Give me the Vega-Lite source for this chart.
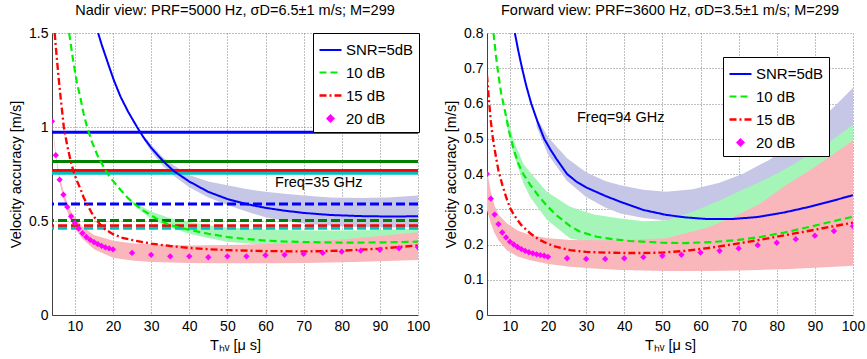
{
  "$schema": "https://vega.github.io/schema/vega-lite/v6.json",
  "background": "white",
  "padding": {"left": 8, "top": 2, "right": 5, "bottom": 5},
  "spacing": 69,
  "bounds": "flush",
  "resolve": {"scale": {"color": "independent", "strokeDash": "independent", "strokeWidth": "independent", "stroke": "independent"}, "legend": {"color": "independent", "strokeDash": "independent"}},
  "datasets": {
    "curvesL": [
      {"x":16.1,"y":1.5,"s":"SNR=5dB"},{"x":17,"y":1.44,"s":"SNR=5dB"},{"x":18,"y":1.38,"s":"SNR=5dB"},{"x":19,"y":1.32,"s":"SNR=5dB"},{"x":20.2,"y":1.25,"s":"SNR=5dB"},{"x":22,"y":1.16,"s":"SNR=5dB"},{"x":24,"y":1.08,"s":"SNR=5dB"},{"x":26.3,"y":1.0,"s":"SNR=5dB"},{"x":28,"y":0.945,"s":"SNR=5dB"},{"x":30,"y":0.89,"s":"SNR=5dB"},{"x":33.3,"y":0.815,"s":"SNR=5dB"},{"x":36,"y":0.765,"s":"SNR=5dB"},{"x":40,"y":0.71,"s":"SNR=5dB"},{"x":45,"y":0.655,"s":"SNR=5dB"},{"x":50,"y":0.617,"s":"SNR=5dB"},{"x":55,"y":0.59,"s":"SNR=5dB"},{"x":60,"y":0.57,"s":"SNR=5dB"},{"x":65,"y":0.555,"s":"SNR=5dB"},{"x":70,"y":0.543,"s":"SNR=5dB"},{"x":77,"y":0.532,"s":"SNR=5dB"},{"x":85,"y":0.526,"s":"SNR=5dB"},{"x":92,"y":0.524,"s":"SNR=5dB"},{"x":100,"y":0.525,"s":"SNR=5dB"},
      {"x":8.5,"y":1.5,"s":"10 dB"},{"x":9.5,"y":1.36,"s":"10 dB"},{"x":10.5,"y":1.24,"s":"10 dB"},{"x":11.5,"y":1.15,"s":"10 dB"},{"x":12.3,"y":1.07,"s":"10 dB"},{"x":13.2,"y":1.0,"s":"10 dB"},{"x":14.5,"y":0.92,"s":"10 dB"},{"x":16,"y":0.845,"s":"10 dB"},{"x":18,"y":0.77,"s":"10 dB"},{"x":19.5,"y":0.725,"s":"10 dB"},{"x":22,"y":0.665,"s":"10 dB"},{"x":24,"y":0.62,"s":"10 dB"},{"x":26,"y":0.585,"s":"10 dB"},{"x":28,"y":0.555,"s":"10 dB"},{"x":30,"y":0.53,"s":"10 dB"},{"x":32,"y":0.505,"s":"10 dB"},{"x":35,"y":0.478,"s":"10 dB"},{"x":40,"y":0.453,"s":"10 dB"},{"x":45,"y":0.432,"s":"10 dB"},{"x":50,"y":0.415,"s":"10 dB"},{"x":55,"y":0.404,"s":"10 dB"},{"x":60,"y":0.396,"s":"10 dB"},{"x":65,"y":0.391,"s":"10 dB"},{"x":70,"y":0.388,"s":"10 dB"},{"x":80,"y":0.385,"s":"10 dB"},{"x":90,"y":0.386,"s":"10 dB"},{"x":100,"y":0.39,"s":"10 dB"},
      {"x":4.7,"y":1.5,"s":"15 dB"},{"x":5.2,"y":1.38,"s":"15 dB"},{"x":5.7,"y":1.27,"s":"15 dB"},{"x":6.3,"y":1.15,"s":"15 dB"},{"x":7.1,"y":1.0,"s":"15 dB"},{"x":8,"y":0.9,"s":"15 dB"},{"x":9,"y":0.81,"s":"15 dB"},{"x":9.7,"y":0.76,"s":"15 dB"},{"x":10.5,"y":0.715,"s":"15 dB"},{"x":11.5,"y":0.67,"s":"15 dB"},{"x":12.3,"y":0.625,"s":"15 dB"},{"x":13.2,"y":0.59,"s":"15 dB"},{"x":14.5,"y":0.54,"s":"15 dB"},{"x":15.8,"y":0.5,"s":"15 dB"},{"x":17,"y":0.475,"s":"15 dB"},{"x":18,"y":0.455,"s":"15 dB"},{"x":20,"y":0.43,"s":"15 dB"},{"x":22.5,"y":0.41,"s":"15 dB"},{"x":25.9,"y":0.395,"s":"15 dB"},{"x":30,"y":0.38,"s":"15 dB"},{"x":35,"y":0.367,"s":"15 dB"},{"x":40,"y":0.357,"s":"15 dB"},{"x":45,"y":0.35,"s":"15 dB"},{"x":50,"y":0.345,"s":"15 dB"},{"x":60,"y":0.34,"s":"15 dB"},{"x":70,"y":0.338,"s":"15 dB"},{"x":80,"y":0.342,"s":"15 dB"},{"x":90,"y":0.353,"s":"15 dB"},{"x":100,"y":0.37,"s":"15 dB"}
    ],
    "ptsL": [
      {"x":4,"y":1.03,"s":"20 dB"},{"x":5,"y":0.85,"s":"20 dB"},{"x":6,"y":0.72,"s":"20 dB"},{"x":7,"y":0.64,"s":"20 dB"},{"x":8,"y":0.575,"s":"20 dB"},{"x":9,"y":0.525,"s":"20 dB"},{"x":10,"y":0.49,"s":"20 dB"},{"x":11,"y":0.46,"s":"20 dB"},{"x":12,"y":0.435,"s":"20 dB"},{"x":13,"y":0.415,"s":"20 dB"},{"x":14,"y":0.4,"s":"20 dB"},{"x":15,"y":0.388,"s":"20 dB"},{"x":16,"y":0.377,"s":"20 dB"},{"x":17,"y":0.368,"s":"20 dB"},{"x":18,"y":0.36,"s":"20 dB"},{"x":19,"y":0.354,"s":"20 dB"},{"x":20,"y":0.349,"s":"20 dB"},{"x":25,"y":0.33,"s":"20 dB"},{"x":30,"y":0.32,"s":"20 dB"},{"x":35,"y":0.312,"s":"20 dB"},{"x":40,"y":0.312,"s":"20 dB"},{"x":45,"y":0.307,"s":"20 dB"},{"x":50,"y":0.312,"s":"20 dB"},{"x":55,"y":0.312,"s":"20 dB"},{"x":60,"y":0.318,"s":"20 dB"},{"x":65,"y":0.32,"s":"20 dB"},{"x":70,"y":0.325,"s":"20 dB"},{"x":75,"y":0.33,"s":"20 dB"},{"x":80,"y":0.337,"s":"20 dB"},{"x":85,"y":0.342,"s":"20 dB"},{"x":90,"y":0.347,"s":"20 dB"},{"x":95,"y":0.355,"s":"20 dB"},{"x":100,"y":0.36,"s":"20 dB"}
    ],
    "bandsL": [
      {"x":28,"lo":0.935,"hi":0.955,"b":"SNR=5dB"},{"x":30,"lo":0.87,"hi":0.905,"b":"SNR=5dB"},{"x":33,"lo":0.795,"hi":0.84,"b":"SNR=5dB"},{"x":36,"lo":0.74,"hi":0.795,"b":"SNR=5dB"},{"x":40,"lo":0.68,"hi":0.745,"b":"SNR=5dB"},{"x":45,"lo":0.625,"hi":0.71,"b":"SNR=5dB"},{"x":50,"lo":0.585,"hi":0.69,"b":"SNR=5dB"},{"x":55,"lo":0.55,"hi":0.67,"b":"SNR=5dB"},{"x":60,"lo":0.52,"hi":0.655,"b":"SNR=5dB"},{"x":65,"lo":0.5,"hi":0.645,"b":"SNR=5dB"},{"x":70,"lo":0.487,"hi":0.635,"b":"SNR=5dB"},{"x":77,"lo":0.475,"hi":0.625,"b":"SNR=5dB"},{"x":85,"lo":0.468,"hi":0.622,"b":"SNR=5dB"},{"x":92,"lo":0.465,"hi":0.625,"b":"SNR=5dB"},{"x":100,"lo":0.465,"hi":0.635,"b":"SNR=5dB"},
      {"x":24,"lo":0.615,"hi":0.625,"b":"10 dB"},{"x":26,"lo":0.575,"hi":0.595,"b":"10 dB"},{"x":30,"lo":0.51,"hi":0.55,"b":"10 dB"},{"x":35,"lo":0.465,"hi":0.515,"b":"10 dB"},{"x":40,"lo":0.432,"hi":0.495,"b":"10 dB"},{"x":45,"lo":0.41,"hi":0.478,"b":"10 dB"},{"x":50,"lo":0.39,"hi":0.465,"b":"10 dB"},{"x":60,"lo":0.372,"hi":0.455,"b":"10 dB"},{"x":70,"lo":0.362,"hi":0.45,"b":"10 dB"},{"x":80,"lo":0.357,"hi":0.45,"b":"10 dB"},{"x":90,"lo":0.355,"hi":0.452,"b":"10 dB"},{"x":100,"lo":0.355,"hi":0.46,"b":"10 dB"},
      {"x":4,"lo":1.02,"hi":1.04,"b":"20 dB"},{"x":5,"lo":0.835,"hi":0.862,"b":"20 dB"},{"x":6,"lo":0.703,"hi":0.737,"b":"20 dB"},{"x":7,"lo":0.62,"hi":0.66,"b":"20 dB"},{"x":8,"lo":0.552,"hi":0.598,"b":"20 dB"},{"x":9,"lo":0.5,"hi":0.55,"b":"20 dB"},{"x":10,"lo":0.46,"hi":0.52,"b":"20 dB"},{"x":12,"lo":0.405,"hi":0.47,"b":"20 dB"},{"x":15,"lo":0.35,"hi":0.425,"b":"20 dB"},{"x":20,"lo":0.305,"hi":0.395,"b":"20 dB"},{"x":25,"lo":0.29,"hi":0.382,"b":"20 dB"},{"x":30,"lo":0.282,"hi":0.376,"b":"20 dB"},{"x":40,"lo":0.276,"hi":0.37,"b":"20 dB"},{"x":50,"lo":0.275,"hi":0.372,"b":"20 dB"},{"x":60,"lo":0.275,"hi":0.378,"b":"20 dB"},{"x":70,"lo":0.277,"hi":0.388,"b":"20 dB"},{"x":80,"lo":0.281,"hi":0.402,"b":"20 dB"},{"x":90,"lo":0.286,"hi":0.42,"b":"20 dB"},{"x":100,"lo":0.292,"hi":0.44,"b":"20 dB"}
    ],
    "refL": [
      {"y":0.972,"g":"A","level":"upper"},{"y":0.816,"g":"B","level":"upper"},{"y":0.768,"g":"C","level":"upper"},{"y":0.754,"g":"D","level":"upper"},
      {"y":0.59,"g":"A","level":"lower"},{"y":0.502,"g":"B","level":"lower"},{"y":0.475,"g":"C","level":"lower"},{"y":0.462,"g":"D","level":"lower"}
    ],
    "labelL": [{"x":62.5,"y":0.7,"t":"Freq=35 GHz"}],
    "curvesR": [
      {"x":11.3,"y":0.8,"s":"SNR=5dB"},{"x":12.2,"y":0.75,"s":"SNR=5dB"},{"x":13.2,"y":0.7,"s":"SNR=5dB"},{"x":14.3,"y":0.65,"s":"SNR=5dB"},{"x":15.6,"y":0.6,"s":"SNR=5dB"},{"x":17.2,"y":0.55,"s":"SNR=5dB"},{"x":19,"y":0.5,"s":"SNR=5dB"},{"x":20.6,"y":0.47,"s":"SNR=5dB"},{"x":22.2,"y":0.443,"s":"SNR=5dB"},{"x":25,"y":0.4,"s":"SNR=5dB"},{"x":27.5,"y":0.378,"s":"SNR=5dB"},{"x":30,"y":0.362,"s":"SNR=5dB"},{"x":35,"y":0.338,"s":"SNR=5dB"},{"x":39,"y":0.321,"s":"SNR=5dB"},{"x":45,"y":0.298,"s":"SNR=5dB"},{"x":51,"y":0.284,"s":"SNR=5dB"},{"x":56,"y":0.277,"s":"SNR=5dB"},{"x":62,"y":0.272,"s":"SNR=5dB"},{"x":68,"y":0.272,"s":"SNR=5dB"},{"x":75,"y":0.278,"s":"SNR=5dB"},{"x":82,"y":0.291,"s":"SNR=5dB"},{"x":88.6,"y":0.307,"s":"SNR=5dB"},{"x":94,"y":0.322,"s":"SNR=5dB"},{"x":100,"y":0.34,"s":"SNR=5dB"},
      {"x":5.7,"y":0.8,"s":"10 dB"},{"x":6.3,"y":0.74,"s":"10 dB"},{"x":7,"y":0.68,"s":"10 dB"},{"x":7.7,"y":0.63,"s":"10 dB"},{"x":8.5,"y":0.59,"s":"10 dB"},{"x":9.8,"y":0.52,"s":"10 dB"},{"x":11,"y":0.47,"s":"10 dB"},{"x":12.2,"y":0.43,"s":"10 dB"},{"x":13.5,"y":0.4,"s":"10 dB"},{"x":15.3,"y":0.37,"s":"10 dB"},{"x":17.5,"y":0.338,"s":"10 dB"},{"x":19.7,"y":0.31,"s":"10 dB"},{"x":22,"y":0.285,"s":"10 dB"},{"x":25.8,"y":0.252,"s":"10 dB"},{"x":28.3,"y":0.237,"s":"10 dB"},{"x":32.8,"y":0.222,"s":"10 dB"},{"x":37,"y":0.215,"s":"10 dB"},{"x":41.5,"y":0.21,"s":"10 dB"},{"x":50,"y":0.205,"s":"10 dB"},{"x":56,"y":0.204,"s":"10 dB"},{"x":63,"y":0.207,"s":"10 dB"},{"x":70,"y":0.213,"s":"10 dB"},{"x":76,"y":0.222,"s":"10 dB"},{"x":82,"y":0.234,"s":"10 dB"},{"x":88.6,"y":0.25,"s":"10 dB"},{"x":94,"y":0.264,"s":"10 dB"},{"x":100,"y":0.279,"s":"10 dB"},
      {"x":4,"y":0.68,"s":"15 dB"},{"x":4.5,"y":0.61,"s":"15 dB"},{"x":5,"y":0.55,"s":"15 dB"},{"x":5.5,"y":0.505,"s":"15 dB"},{"x":6,"y":0.47,"s":"15 dB"},{"x":7,"y":0.41,"s":"15 dB"},{"x":8,"y":0.37,"s":"15 dB"},{"x":9,"y":0.335,"s":"15 dB"},{"x":10,"y":0.305,"s":"15 dB"},{"x":11,"y":0.285,"s":"15 dB"},{"x":13,"y":0.255,"s":"15 dB"},{"x":15.3,"y":0.232,"s":"15 dB"},{"x":17.5,"y":0.215,"s":"15 dB"},{"x":19.7,"y":0.203,"s":"15 dB"},{"x":22,"y":0.194,"s":"15 dB"},{"x":25.8,"y":0.184,"s":"15 dB"},{"x":30,"y":0.179,"s":"15 dB"},{"x":35,"y":0.177,"s":"15 dB"},{"x":40,"y":0.176,"s":"15 dB"},{"x":45,"y":0.176,"s":"15 dB"},{"x":50,"y":0.177,"s":"15 dB"},{"x":56,"y":0.182,"s":"15 dB"},{"x":62,"y":0.19,"s":"15 dB"},{"x":70,"y":0.203,"s":"15 dB"},{"x":75.5,"y":0.213,"s":"15 dB"},{"x":82,"y":0.226,"s":"15 dB"},{"x":88.6,"y":0.239,"s":"15 dB"},{"x":94,"y":0.25,"s":"15 dB"},{"x":100,"y":0.262,"s":"15 dB"}
    ],
    "ptsR": [
      {"x":4,"y":0.4,"s":"20 dB"},{"x":5,"y":0.33,"s":"20 dB"},{"x":6,"y":0.285,"s":"20 dB"},{"x":7,"y":0.258,"s":"20 dB"},{"x":8,"y":0.234,"s":"20 dB"},{"x":9,"y":0.22,"s":"20 dB"},{"x":10,"y":0.208,"s":"20 dB"},{"x":11,"y":0.2,"s":"20 dB"},{"x":12,"y":0.193,"s":"20 dB"},{"x":13,"y":0.187,"s":"20 dB"},{"x":14,"y":0.182,"s":"20 dB"},{"x":15,"y":0.178,"s":"20 dB"},{"x":16,"y":0.175,"s":"20 dB"},{"x":17,"y":0.172,"s":"20 dB"},{"x":18,"y":0.17,"s":"20 dB"},{"x":19,"y":0.168,"s":"20 dB"},{"x":20,"y":0.165,"s":"20 dB"},{"x":25,"y":0.161,"s":"20 dB"},{"x":30,"y":0.159,"s":"20 dB"},{"x":35,"y":0.159,"s":"20 dB"},{"x":40,"y":0.161,"s":"20 dB"},{"x":45,"y":0.164,"s":"20 dB"},{"x":50,"y":0.168,"s":"20 dB"},{"x":55,"y":0.171,"s":"20 dB"},{"x":60,"y":0.177,"s":"20 dB"},{"x":65,"y":0.182,"s":"20 dB"},{"x":70,"y":0.189,"s":"20 dB"},{"x":75,"y":0.198,"s":"20 dB"},{"x":80,"y":0.205,"s":"20 dB"},{"x":85,"y":0.215,"s":"20 dB"},{"x":90,"y":0.225,"s":"20 dB"},{"x":95,"y":0.238,"s":"20 dB"},{"x":100,"y":0.252,"s":"20 dB"}
    ],
    "bandsR": [
      {"x":17,"lo":0.535,"hi":0.56,"b":"SNR=5dB"},{"x":20,"lo":0.455,"hi":0.505,"b":"SNR=5dB"},{"x":25,"lo":0.38,"hi":0.445,"b":"SNR=5dB"},{"x":30,"lo":0.335,"hi":0.405,"b":"SNR=5dB"},{"x":35,"lo":0.305,"hi":0.38,"b":"SNR=5dB"},{"x":39,"lo":0.288,"hi":0.368,"b":"SNR=5dB"},{"x":45,"lo":0.275,"hi":0.355,"b":"SNR=5dB"},{"x":51,"lo":0.268,"hi":0.35,"b":"SNR=5dB"},{"x":58,"lo":0.265,"hi":0.357,"b":"SNR=5dB"},{"x":65,"lo":0.265,"hi":0.375,"b":"SNR=5dB"},{"x":71,"lo":0.268,"hi":0.4,"b":"SNR=5dB"},{"x":78,"lo":0.274,"hi":0.44,"b":"SNR=5dB"},{"x":84,"lo":0.28,"hi":0.487,"b":"SNR=5dB"},{"x":90,"lo":0.29,"hi":0.54,"b":"SNR=5dB"},{"x":95,"lo":0.3,"hi":0.59,"b":"SNR=5dB"},{"x":100,"lo":0.31,"hi":0.645,"b":"SNR=5dB"},
      {"x":9,"lo":0.545,"hi":0.575,"b":"10 dB"},{"x":11,"lo":0.455,"hi":0.495,"b":"10 dB"},{"x":13.5,"lo":0.375,"hi":0.43,"b":"10 dB"},{"x":15.3,"lo":0.335,"hi":0.405,"b":"10 dB"},{"x":19.7,"lo":0.27,"hi":0.35,"b":"10 dB"},{"x":25.8,"lo":0.217,"hi":0.307,"b":"10 dB"},{"x":32,"lo":0.205,"hi":0.285,"b":"10 dB"},{"x":39,"lo":0.2,"hi":0.274,"b":"10 dB"},{"x":45,"lo":0.198,"hi":0.266,"b":"10 dB"},{"x":51,"lo":0.198,"hi":0.268,"b":"10 dB"},{"x":58,"lo":0.198,"hi":0.293,"b":"10 dB"},{"x":65,"lo":0.2,"hi":0.325,"b":"10 dB"},{"x":71,"lo":0.202,"hi":0.355,"b":"10 dB"},{"x":78,"lo":0.205,"hi":0.39,"b":"10 dB"},{"x":84,"lo":0.208,"hi":0.425,"b":"10 dB"},{"x":90,"lo":0.212,"hi":0.465,"b":"10 dB"},{"x":95,"lo":0.215,"hi":0.5,"b":"10 dB"},{"x":100,"lo":0.22,"hi":0.54,"b":"10 dB"},
      {"x":4,"lo":0.298,"hi":0.41,"b":"20 dB"},{"x":5,"lo":0.26,"hi":0.35,"b":"20 dB"},{"x":6,"lo":0.232,"hi":0.31,"b":"20 dB"},{"x":7,"lo":0.212,"hi":0.285,"b":"20 dB"},{"x":9.2,"lo":0.184,"hi":0.26,"b":"20 dB"},{"x":12,"lo":0.166,"hi":0.24,"b":"20 dB"},{"x":15.3,"lo":0.155,"hi":0.227,"b":"20 dB"},{"x":20,"lo":0.145,"hi":0.218,"b":"20 dB"},{"x":25.8,"lo":0.137,"hi":0.213,"b":"20 dB"},{"x":32,"lo":0.132,"hi":0.212,"b":"20 dB"},{"x":39,"lo":0.128,"hi":0.212,"b":"20 dB"},{"x":51,"lo":0.125,"hi":0.218,"b":"20 dB"},{"x":62,"lo":0.125,"hi":0.248,"b":"20 dB"},{"x":70,"lo":0.126,"hi":0.285,"b":"20 dB"},{"x":75.5,"lo":0.128,"hi":0.315,"b":"20 dB"},{"x":82,"lo":0.13,"hi":0.365,"b":"20 dB"},{"x":88.6,"lo":0.133,"hi":0.41,"b":"20 dB"},{"x":94,"lo":0.136,"hi":0.45,"b":"20 dB"},{"x":100,"lo":0.14,"hi":0.495,"b":"20 dB"}
    ],
    "labelR": [{"x":27.6,"y":0.559,"t":"Freq=94 GHz"}]
  },
  "hconcat": [
    {
      "width": 366, "height": 282,
      "title": {"text": "Nadir view: PRF=5000 Hz, σD=6.5±1 m/s; M=299"},
      "encoding": {
        "x": {"type": "quantitative", "scale": {"domain": [4, 100], "nice": false, "zero": false}, "axis": {"values": [10,20,30,40,50,60,70,80,90,100], "title": "Tₕᵥ [μ s]"}},
        "y": {"type": "quantitative", "scale": {"domain": [0, 1.5], "nice": false, "zero": false}, "axis": {"values": [0, 0.5, 1, 1.5], "format": "~g", "title": "Velocity accuracy [m/s]"}}
      },
      "layer": [
        {"data": {"name": "bandsL"}, "transform": [{"filter": "datum.b === 'SNR=5dB'"}], "mark": {"type": "area", "color": "#c6c6e6", "clip": true},
         "encoding": {"x": {"field": "x"}, "y": {"field": "lo"}, "y2": {"field": "hi"}}},
        {"data": {"name": "bandsL"}, "transform": [{"filter": "datum.b === '10 dB'"}], "mark": {"type": "area", "color": "#a5f5b8", "clip": true},
         "encoding": {"x": {"field": "x"}, "y": {"field": "lo"}, "y2": {"field": "hi"}}},
        {"data": {"name": "bandsL"}, "transform": [{"filter": "datum.b === '20 dB'"}], "mark": {"type": "area", "color": "#f9b6bb", "clip": true},
         "encoding": {"x": {"field": "x"}, "y": {"field": "lo"}, "y2": {"field": "hi"}}},
        {"data": {"name": "refL"}, "transform": [{"filter": "datum.level === 'upper'"}], "mark": {"type": "rule", "strokeWidth": 3},
         "encoding": {"y": {"field": "y"}, "stroke": {"field": "g", "type": "nominal", "scale": {"domain": ["A","B","C","D"], "range": ["#0000ff", "#008000", "#ff0000", "#00c0c0"]}, "legend": null}}},
        {"data": {"name": "refL"}, "transform": [{"filter": "datum.level === 'lower'"}], "mark": {"type": "rule", "strokeWidth": 3, "strokeDash": [9, 4]},
         "encoding": {"y": {"field": "y"}, "stroke": {"field": "g", "type": "nominal", "scale": {"domain": ["A","B","C","D"], "range": ["#0000ff", "#008000", "#ff0000", "#00c0c0"]}, "legend": null}}},
        {"data": {"name": "curvesL"}, "mark": {"type": "line", "clip": true},
         "encoding": {
           "x": {"field": "x"},
           "y": {"field": "y"},
           "color": {"field": "s", "type": "nominal", "scale": {"domain": ["SNR=5dB", "10 dB", "15 dB", "20 dB"], "range": ["#0000ff", "#00ee00", "#ff0000", "#ff00ff"]}, "legend": {"orient": "none", "legendX": 261, "legendY": 0, "title": null, "encode": {"symbols": {"update": {"shape": {"signal": "datum.value === '20 dB' ? 'diamond' : 'stroke'"}, "size": {"signal": "datum.value === '20 dB' ? 30 : 484"}, "fill": {"signal": "datum.value === '20 dB' ? '#ff00ff' : 'transparent'"}}}}}},
           "strokeDash": {"field": "s", "type": "nominal", "scale": {"domain": ["SNR=5dB", "10 dB", "15 dB", "20 dB"], "range": [[1, 0], [7, 4], [7, 3, 2, 3], [1, 0]]}, "legend": {"orient": "none", "legendX": 261, "legendY": 0, "title": null, "encode": {"symbols": {"update": {"shape": {"signal": "datum.value === '20 dB' ? 'diamond' : 'stroke'"}, "size": {"signal": "datum.value === '20 dB' ? 30 : 484"}, "fill": {"signal": "datum.value === '20 dB' ? '#ff00ff' : 'transparent'"}}}}}},
           "strokeWidth": {"field": "s", "type": "nominal", "scale": {"domain": ["SNR=5dB", "10 dB", "15 dB", "20 dB"], "range": [2, 2.5, 1.8, 1]}, "legend": null}
         }},
        {"data": {"name": "ptsL"}, "mark": {"type": "point", "shape": "diamond", "filled": true, "size": 40, "opacity": 1, "clip": true},
         "encoding": {
           "x": {"field": "x"},
           "y": {"field": "y"},
           "color": {"field": "s", "type": "nominal", "legend": {"orient": "none", "legendX": 261, "legendY": 0, "title": null, "encode": {"symbols": {"update": {"shape": {"signal": "datum.value === '20 dB' ? 'diamond' : 'stroke'"}, "size": {"signal": "datum.value === '20 dB' ? 30 : 484"}, "fill": {"signal": "datum.value === '20 dB' ? '#ff00ff' : 'transparent'"}}}}}}
         }},
        {"data": {"name": "labelL"}, "mark": {"type": "text", "align": "left", "baseline": "middle", "fontSize": 14.5, "color": "#000"},
         "encoding": {"x": {"field": "x"}, "y": {"field": "y"}, "text": {"field": "t"}}}
      ]
    },
    {
      "width": 366, "height": 282,
      "title": {"text": "Forward view: PRF=3600 Hz, σD=3.5±1 m/s; M=299"},
      "encoding": {
        "x": {"type": "quantitative", "scale": {"domain": [4, 100], "nice": false, "zero": false}, "axis": {"values": [10,20,30,40,50,60,70,80,90,100], "title": "Tₕᵥ [μ s]"}},
        "y": {"type": "quantitative", "scale": {"domain": [0, 0.8], "nice": false, "zero": false}, "axis": {"values": [0, 0.1, 0.2, 0.3, 0.4, 0.5, 0.6, 0.7, 0.8], "format": "~g", "title": "Velocity accuracy [m/s]"}}
      },
      "layer": [
        {"data": {"name": "bandsR"}, "transform": [{"filter": "datum.b === 'SNR=5dB'"}], "mark": {"type": "area", "color": "#c6c6e6", "clip": true},
         "encoding": {"x": {"field": "x"}, "y": {"field": "lo"}, "y2": {"field": "hi"}}},
        {"data": {"name": "bandsR"}, "transform": [{"filter": "datum.b === '10 dB'"}], "mark": {"type": "area", "color": "#a5f5b8", "clip": true},
         "encoding": {"x": {"field": "x"}, "y": {"field": "lo"}, "y2": {"field": "hi"}}},
        {"data": {"name": "bandsR"}, "transform": [{"filter": "datum.b === '20 dB'"}], "mark": {"type": "area", "color": "#f9b6bb", "clip": true},
         "encoding": {"x": {"field": "x"}, "y": {"field": "lo"}, "y2": {"field": "hi"}}},
        {"data": {"name": "curvesR"}, "mark": {"type": "line", "clip": true},
         "encoding": {
           "x": {"field": "x"},
           "y": {"field": "y"},
           "color": {"field": "s", "type": "nominal", "scale": {"domain": ["SNR=5dB", "10 dB", "15 dB", "20 dB"], "range": ["#0000ff", "#00ee00", "#ff0000", "#ff00ff"]}, "legend": {"orient": "none", "legendX": 236, "legendY": 24, "title": null, "encode": {"symbols": {"update": {"shape": {"signal": "datum.value === '20 dB' ? 'diamond' : 'stroke'"}, "size": {"signal": "datum.value === '20 dB' ? 30 : 484"}, "fill": {"signal": "datum.value === '20 dB' ? '#ff00ff' : 'transparent'"}}}}}},
           "strokeDash": {"field": "s", "type": "nominal", "scale": {"domain": ["SNR=5dB", "10 dB", "15 dB", "20 dB"], "range": [[1, 0], [7, 4], [7, 3, 2, 3], [1, 0]]}, "legend": {"orient": "none", "legendX": 236, "legendY": 24, "title": null, "encode": {"symbols": {"update": {"shape": {"signal": "datum.value === '20 dB' ? 'diamond' : 'stroke'"}, "size": {"signal": "datum.value === '20 dB' ? 30 : 484"}, "fill": {"signal": "datum.value === '20 dB' ? '#ff00ff' : 'transparent'"}}}}}},
           "strokeWidth": {"field": "s", "type": "nominal", "scale": {"domain": ["SNR=5dB", "10 dB", "15 dB", "20 dB"], "range": [2, 2.5, 1.8, 1]}, "legend": null}
         }},
        {"data": {"name": "ptsR"}, "mark": {"type": "point", "shape": "diamond", "filled": true, "size": 40, "opacity": 1, "clip": true},
         "encoding": {
           "x": {"field": "x"},
           "y": {"field": "y"},
           "color": {"field": "s", "type": "nominal", "legend": {"orient": "none", "legendX": 236, "legendY": 24, "title": null, "encode": {"symbols": {"update": {"shape": {"signal": "datum.value === '20 dB' ? 'diamond' : 'stroke'"}, "size": {"signal": "datum.value === '20 dB' ? 30 : 484"}, "fill": {"signal": "datum.value === '20 dB' ? '#ff00ff' : 'transparent'"}}}}}}
         }},
        {"data": {"name": "labelR"}, "mark": {"type": "text", "align": "left", "baseline": "middle", "fontSize": 14.5, "color": "#000"},
         "encoding": {"x": {"field": "x"}, "y": {"field": "y"}, "text": {"field": "t"}}}
      ]
    }
  ],
  "config": {
    "font": "Liberation Sans",
    "view": {"stroke": null},
    "axis": {"domainColor": "#404040", "domainWidth": 1, "gridColor": "#808080", "gridDash": [1, 2], "gridOpacity": 1, "grid": true, "ticks": false, "labelFontSize": 14, "labelColor": "#000", "labelPadding": 4, "titleFontSize": 14.5, "titleFontWeight": "normal", "titleColor": "#000", "titlePadding": 5, "labelFlush": false, "labelOverlap": false},
    "title": {"fontSize": 14.5, "fontWeight": "normal", "color": "#000", "offset": 8},
    "legend": {
      "strokeColor": "#000", "fillColor": "#fff", "padding": 5, "labelFontSize": 15, "labelColor": "#000", "labelOffset": 3,
      "symbolStrokeWidth": 2.5, "symbolType": "stroke", "symbolSize": 484, "rowPadding": 2, "cornerRadius": 0,
      "symbolOpacity": 1,
      "labelLimit": 200
    }
  }
}
